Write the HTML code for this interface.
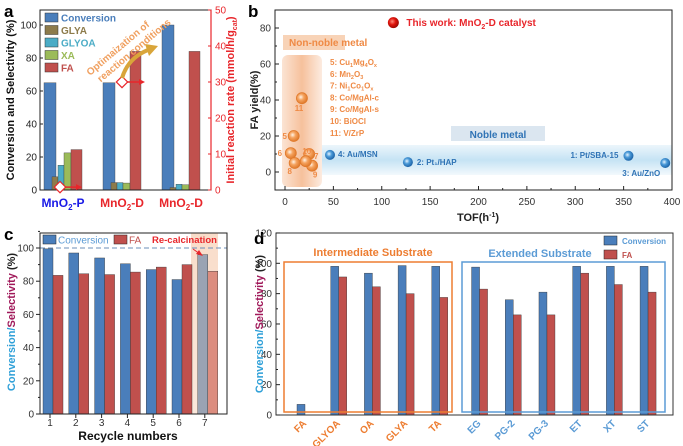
<!DOCTYPE html>
<html><head><meta charset="utf-8">
<style>
html,body{margin:0;padding:0;background:#fff;}
svg{display:block;font-family:"Liberation Sans",Arial,sans-serif;}
</style></head>
<body>
<svg id="fig" width="683" height="446" viewBox="0 0 683 446" xmlns="http://www.w3.org/2000/svg">
<defs>
<linearGradient id="gOr" x1="0" y1="0" x2="1" y2="0"><stop offset="0" stop-color="#f4b183" stop-opacity="0.35"/><stop offset="0.5" stop-color="#f4b183" stop-opacity="0.8"/><stop offset="1" stop-color="#f4b183" stop-opacity="0.25"/></linearGradient>
<linearGradient id="gBl" x1="0" y1="0" x2="0" y2="1"><stop offset="0" stop-color="#bfe0f3" stop-opacity="0.3"/><stop offset="0.5" stop-color="#bfe0f3" stop-opacity="0.9"/><stop offset="1" stop-color="#bfe0f3" stop-opacity="0.2"/></linearGradient>
<linearGradient id="gRe" x1="0" y1="0" x2="0" y2="1"><stop offset="0" stop-color="#f8d9c4" stop-opacity="0.9"/><stop offset="1" stop-color="#f8d9c4" stop-opacity="0.6"/></linearGradient>
<radialGradient id="ballO" cx="0.4" cy="0.4" r="0.6"><stop offset="0" stop-color="#fff3e6"/><stop offset="0.45" stop-color="#f5a35f"/><stop offset="1" stop-color="#e07a2c"/></radialGradient>
<radialGradient id="ballB" cx="0.4" cy="0.4" r="0.6"><stop offset="0" stop-color="#e6f4ff"/><stop offset="0.45" stop-color="#4a9ad8"/><stop offset="1" stop-color="#1d64a8"/></radialGradient>
<radialGradient id="ballR" cx="0.4" cy="0.4" r="0.6"><stop offset="0" stop-color="#ff8a7a"/><stop offset="0.5" stop-color="#e0140c"/><stop offset="1" stop-color="#9c0a04"/></radialGradient>
</defs>
<g id="pa"></g>
<g id="pb"></g>
<g id="pc"></g>
<g id="pd"></g>
</svg>
<script>
// ---------- Panel a data ----------
const aCats = ["MnO2-P","MnO2-D","MnO2-D"];
const aConversion = [65, 65, 100];
const aGLYA = [8, 4.5, 1.5];
const aGLYOA = [15, 4.5, 3.5];
const aXA = [22.5, 4.2, 3.2];
const aFA = [24.5, 84, 84];
const aRate = [0.8, 30];
const aLeftTicks = [0,20,40,60,80,100];
const aRightTicks = [0,10,20,30,40,50];
// ---------- Panel b data ----------
const bNonNobleLabels = ["5","6","7","8","9","10","11"];
const bNonNobleTOF = [9, 6, 25, 10, 28, 21.5, 17.5];
const bNonNobleYield = [20, 10.5, 10, 5, 3.5, 6, 41];
const bNobleLabels = ["1: Pt/SBA-15","2: Pt\u2081/HAP","3: Au/ZnO","4: Au/MSN"];
const bNobleTOF = [355, 127, 393, 46.5];
const bNobleYield = [9, 5.5, 5, 9.5];
const bThisTOF = [112];
const bThisYield = [83];
const bXTicks = [0,50,100,150,200,250,300,350,400];
const bYTicks = [0,20,40,60,80];
// ---------- Panel c data ----------
const cCycles = [1,2,3,4,5,6,7];
const cConversion = [99.5, 97, 94, 90.5, 87, 81, 96];
const cFA = [83.5, 84.5, 84, 85.5, 88.5, 90, 86];
const cYTicks = [0,20,40,60,80,100];
// ---------- Panel d data ----------
const dCats = ["FA","GLYOA","OA","GLYA","TA","EG","PG-2","PG-3","ET","XT","ST"];
const dConversion = [7, 98, 93.5, 98.5, 98, 97.5, 76, 81, 98, 98, 98];
const dFA = [0, 91, 84.5, 80, 77.5, 83, 66, 66, 93.5, 86, 81];
const dYTicks = [0,20,40,60,80,100,120];

const NS="http://www.w3.org/2000/svg";
function mk(parent, tag, attrs, text){
  const e=document.createElementNS(NS,tag);
  for(const k in attrs) e.setAttribute(k, attrs[k]);
  if(text!==undefined) e.textContent=text;
  parent.appendChild(e);
  return e;
}
const BLUE="#4a7ebb", RED="#c0504d", ORG="#ed7d31", LBLUE="#5b9bd5";

// ================= PANEL A =================
(function(){
  const g=document.getElementById('pa');
  const ya=v=>190-v*1.65, yr=v=>190-v*3.6;
  const cx=[63,122,181];
  let t=mk(g,'text',{x:4,y:17,'font-size':17,'font-weight':'bold'},'a');
  
  
  // bars
  for(let i=0;i<3;i++){
    const c=cx[i];
    const specs=[[aConversion[i],-19,12,BLUE,'bar-conversion'],[aGLYA[i],-11,6,'#8d7b4b','bar-glya'],[aGLYOA[i],-5,6,'#4bacc6','bar-glyoa'],[aXA[i],1,7,'#9bbb59','bar-xa'],[aFA[i],8,11,RED,'bar-fa']];
    for(const s of specs){
      const r=mk(g,'rect',{x:c+s[1],y:ya(s[0]),width:s[2],height:190-ya(s[0]),fill:s[3],stroke:'#444','stroke-width':0.4});
      
      
    }
  }
  // frame
  let f=mk(g,'rect',{x:40,y:10,width:171,height:180,fill:'none',stroke:'#222','stroke-width':1});
  
  
  mk(g,'line',{x1:211,y1:10,x2:211,y2:190,stroke:'#e8262b','stroke-width':1.2});
  for(const v of aLeftTicks){
    mk(g,'line',{x1:40,y1:ya(v),x2:43,y2:ya(v),stroke:'#222'});
    const l=mk(g,'text',{x:37,y:ya(v)+3.5,'font-size':10,'text-anchor':'end',fill:'#222'},v);
    
    
  }
  for(const v of aRightTicks){
    mk(g,'line',{x1:211,y1:yr(v),x2:208,y2:yr(v),stroke:'#e8262b'});
    const l=mk(g,'text',{x:215,y:yr(v)+3.5,'font-size':10,fill:'#e8262b'},v);
    
    
  }
  // rate markers
  const rx=[60,122], re=[82,145];
  for(let i=0;i<aRate.length;i++){
    const y=yr(aRate[i]);
    mk(g,'line',{x1:rx[i],y1:y,x2:re[i]-4,y2:y,stroke:'#e8262b','stroke-width':1.6});
    mk(g,'polygon',{points:`${re[i]},${y} ${re[i]-6},${y-3} ${re[i]-6},${y+3}`,fill:'#e8262b'});
    const d=mk(g,'rect',{x:rx[i]-4,y:y-4,width:8,height:8,fill:'#fff',stroke:'#e8262b','stroke-width':1.2,transform:`rotate(45 ${rx[i]} ${y})`});
    
    
  }
  // orange arrow
  mk(g,'path',{d:'M122,78 Q128,58 148,50',fill:'none',stroke:'#d9a53a','stroke-width':4});
  mk(g,'polygon',{points:'158,46 145,44 149,56',fill:'#d9a53a'});
  const ot=mk(g,'text',{transform:'translate(90,76) rotate(-40)','font-size':10,'font-weight':'bold',fill:'#f0a060'});
  
  
  mk(ot,'tspan',{x:0,y:0},'Optimaization of');
  mk(ot,'tspan',{x:4,y:12},'reaction conditions');
  // legend
  const leg=[['Conversion',BLUE],['GLYA','#8d7b4b'],['GLYOA','#4bacc6'],['XA','#9bbb59'],['FA',RED]];
  leg.forEach((e,i)=>{
    const y=13+i*12.5;
    const s=mk(g,'rect',{x:45,y:y,width:13,height:9,fill:e[1],stroke:'#333','stroke-width':0.5});
    
    
    const l=mk(g,'text',{x:61,y:y+8.5,'font-size':10,'font-weight':'bold',fill:e[1]},e[0]);
    
    
  });
  // x labels
  const cols=['#1a1ae6','#e8262b','#e8262b'];
  aCats.forEach((c,i)=>{
    const l=mk(g,'text',{x:cx[i],y:207,'font-size':12,'font-weight':'bold','text-anchor':'middle',fill:cols[i]});
    
    
    mk(l,'tspan',{},'MnO');
    mk(l,'tspan',{'font-size':8,dy:3},'2');
    mk(l,'tspan',{dy:-3},c.slice(4));
  });
  let yt=mk(g,'text',{transform:'translate(14,100) rotate(-90)','font-size':11,'font-weight':'bold','text-anchor':'middle',fill:'#111'},'Conversion and Selectivity (%)');
  
  
  let yt2=mk(g,'text',{transform:'translate(234,100) rotate(-90)','font-size':11,'font-weight':'bold','text-anchor':'middle',fill:'#e8262b'});
  
  
  mk(yt2,'tspan',{},'Initial reaction rate (mmol/h/g');
  mk(yt2,'tspan',{'font-size':7,dy:3},'cat');
  mk(yt2,'tspan',{dy:-3},')');
})();

// ================= PANEL B =================
(function(){
  const g=document.getElementById('pb');
  const xb=v=>285+v*0.9675, yb=v=>172-v*1.8;
  let t=mk(g,'text',{x:248,y:17,'font-size':17,'font-weight':'bold'},'b');
  
  
  // shaded regions
  let s1=mk(g,'rect',{x:282,y:55,width:40,height:132,rx:6,fill:'url(#gOr)'});
  
  
  let s2=mk(g,'rect',{x:322,y:145,width:350,height:30,fill:'url(#gBl)'});
  
  
  mk(g,'rect',{x:283,y:35,width:62,height:15,fill:'#f8d3b7'});
  let nl=mk(g,'text',{x:289,y:46,'font-size':10,'font-weight':'bold',fill:'#ef8a45'},'Non-noble metal');
  
  
  mk(g,'rect',{x:451,y:126,width:94,height:15,fill:'#dbe6f0'});
  let bl=mk(g,'text',{x:498,y:138,'font-size':10,'font-weight':'bold','text-anchor':'middle',fill:'#2f73b5'},'Noble metal');
  
  
  // catalyst list
  const list=[['5: Cu','1','Mg','4','O','x'],['6: Mn','2','O','3'],['7: Ni','1','Co','1','O','x'],['8: Co/MgAl-c'],['9: Co/MgAl-s'],['10: BiOCl'],['11: V/ZrP']];
  list.forEach((L,i)=>{
    const tx=mk(g,'text',{x:330,y:65+i*11.8,'font-size':8,'font-weight':'bold',fill:'#ef8a45'});
    
    
    L.forEach((p,j)=>{ if(j%2===1) mk(tx,'tspan',{'font-size':5.5,dy:2},p); else mk(tx,'tspan',{dy:j?-2:0},p); });
  });
  // frame
  let f=mk(g,'rect',{x:275,y:10,width:397,height:180,fill:'none',stroke:'#222'});
  
  
  bXTicks.forEach(v=>{
    mk(g,'line',{x1:xb(v),y1:190,x2:xb(v),y2:186,stroke:'#222'});
    mk(g,'line',{x1:xb(v+25),y1:190,x2:xb(v+25),y2:188,stroke:'#222'});
    const l=mk(g,'text',{x:xb(v),y:205,'font-size':10,'text-anchor':'middle',fill:'#333'},v);
    
    
  });
  bYTicks.forEach(v=>{
    mk(g,'line',{x1:275,y1:yb(v),x2:279,y2:yb(v),stroke:'#222'});
    mk(g,'line',{x1:275,y1:yb(v+10),x2:277,y2:yb(v+10),stroke:'#222'});
    const l=mk(g,'text',{x:271,y:yb(v)+3.5,'font-size':10,'text-anchor':'end',fill:'#333'},v);
    
    
  });
  // non-noble points
  const lblOff={'5':[-9,3],'6':[-11,3],'7':[7,5],'8':[-5,11],'9':[3,12],'10':[1,-7],'11':[-3,13]};
  bNonNobleTOF.forEach((v,i)=>{
    const x=xb(v), y=yb(bNonNobleYield[i]);
    const c=mk(g,'circle',{cx:x,cy:y,r:5.5,fill:'url(#ballO)',stroke:'#e07a2c','stroke-width':0.8});
    
    
    const o=lblOff[bNonNobleLabels[i]]||[6,0];
    const l=mk(g,'text',{x:x+o[0],y:y+o[1],'font-size':8,'font-weight':'bold','text-anchor':'middle',fill:'#ef8a45'},bNonNobleLabels[i]);
    
    
  });
  // noble
  const nOff=[[-10,2,'end'],[9,3,'start'],[-5,13,'end'],[8,2,'start']];
  bNobleTOF.forEach((v,i)=>{
    const x=xb(v), y=yb(bNobleYield[i]);
    const c=mk(g,'circle',{cx:x,cy:y,r:5,fill:'url(#ballB)'});
    
    
    const l=mk(g,'text',{x:x+nOff[i][0],y:y+nOff[i][1],'font-size':8,'font-weight':'bold','text-anchor':nOff[i][2],fill:'#2f73b5'},bNobleLabels[i]);
    
    
  });
  bThisTOF.forEach((v,i)=>{
    const c=mk(g,'circle',{cx:xb(v),cy:yb(bThisYield[i]),r:5.5,fill:'url(#ballR)'});
    
    
    const l=mk(g,'text',{x:xb(v)+13,y:yb(bThisYield[i])+3.5,'font-size':10,'font-weight':'bold',fill:'#e8262b'});
    
    
    mk(l,'tspan',{},'This work: MnO');
    mk(l,'tspan',{'font-size':7,dy:3},'2');
    mk(l,'tspan',{dy:-3},'-D catalyst');
  });
  let xt=mk(g,'text',{x:478,y:221,'font-size':11,'font-weight':'bold','text-anchor':'middle',fill:'#222'});
  
  
  mk(xt,'tspan',{},'TOF(h');
  mk(xt,'tspan',{'font-size':7,dy:-4},'-1');
  mk(xt,'tspan',{dy:4},')');
  let yt=mk(g,'text',{transform:'translate(258,100) rotate(-90)','font-size':11,'font-weight':'bold','text-anchor':'middle',fill:'#222'},'FA yield(%)');
  
  
})();

// ================= PANEL C =================
(function(){
  const g=document.getElementById('pc');
  const xc=i=>50+(i-1)*25.8, yc=v=>414-v*1.66;
  let t=mk(g,'text',{x:4,y:240,'font-size':17,'font-weight':'bold'},'c');
  
  
  let sh=mk(g,'rect',{x:191,y:233,width:27,height:181,fill:'url(#gRe)'});
  
  
  cCycles.forEach((c,i)=>{
    const last=(i===cCycles.length-1);
    const b=mk(g,'rect',{x:xc(c)-7,y:yc(cConversion[i]),width:10,height:414-yc(cConversion[i]),fill:last?'#9aa3b3':BLUE,stroke:'#333','stroke-width':0.4});
    
    
    const r=mk(g,'rect',{x:xc(c)+3,y:yc(cFA[i]),width:10,height:414-yc(cFA[i]),fill:last?'#dc8d7f':RED,stroke:'#333','stroke-width':0.4});
    
    
    mk(g,'line',{x1:xc(c),y1:414,x2:xc(c),y2:418,stroke:'#222'});
    const l=mk(g,'text',{x:xc(c),y:426,'font-size':10,'text-anchor':'middle',fill:'#333'},c);
    
    
  });
  let dl=mk(g,'line',{x1:40,y1:yc(100),x2:227,y2:yc(100),stroke:'#6b8fb8','stroke-dasharray':'5,3'});
  
  
  let f=mk(g,'rect',{x:40,y:233,width:187,height:181,fill:'none',stroke:'#222'});
  
  
  cYTicks.forEach(v=>{
    mk(g,'line',{x1:36,y1:yc(v),x2:40,y2:yc(v),stroke:'#222'});
    mk(g,'line',{x1:38,y1:yc(v+10),x2:40,y2:yc(v+10),stroke:'#222'});
    const l=mk(g,'text',{x:34,y:yc(v)+3.5,'font-size':10,'text-anchor':'end',fill:'#333'},v);
    
    
  });
  // legend
  mk(g,'rect',{x:43,y:235,width:13,height:9,fill:BLUE,stroke:'#222','stroke-width':0.5});
  let l1=mk(g,'text',{x:58,y:243.5,'font-size':10,fill:LBLUE},'Conversion');
  
  
  mk(g,'rect',{x:114,y:235,width:13,height:9,fill:RED,stroke:'#222','stroke-width':0.5});
  let l2=mk(g,'text',{x:129,y:243.5,'font-size':10,fill:RED},'FA');
  
  
  let rc=mk(g,'text',{x:152,y:243,'font-size':9.5,'font-weight':'bold',fill:'#e8262b'},'Re-calcination');
  
  
  mk(g,'line',{x1:193,y1:249,x2:200,y2:254,stroke:'#e8262b','stroke-width':1});
  mk(g,'polygon',{points:'203,256 196,254 199,250',fill:'#e8262b'});
  let xt=mk(g,'text',{x:128,y:440,'font-size':12,'font-weight':'bold','text-anchor':'middle',fill:'#111'},'Recycle numbers');
  
  
  let yt=mk(g,'text',{transform:'translate(15,322) rotate(-90)','font-size':11,'font-weight':'bold','text-anchor':'middle'});
  
  
  mk(yt,'tspan',{fill:'#2fa0d8'},'Conversion/');
  mk(yt,'tspan',{fill:'#a0195a'},'Selectivity');
  mk(yt,'tspan',{fill:'#222'},' (%)');
})();

// ================= PANEL D =================
(function(){
  const g=document.getElementById('pd');
  const xd=i=>301+(i+(i>=5?0.18:0))*33.7, yd=v=>415-v*1.517;
  let t=mk(g,'text',{x:254,y:244,'font-size':17,'font-weight':'bold'},'d');
  
  
  dCats.forEach((c,i)=>{
    if(dConversion[i]>0){
      const b=mk(g,'rect',{x:xd(i)-4,y:yd(dConversion[i]),width:8,height:415-yd(dConversion[i]),fill:BLUE,stroke:'#333','stroke-width':0.4});
      
      
    }
    if(dFA[i]>0){
      const r=mk(g,'rect',{x:xd(i)+4,y:yd(dFA[i]),width:8,height:415-yd(dFA[i]),fill:RED,stroke:'#333','stroke-width':0.4});
      
      
    }
    const col=i<5?ORG:LBLUE;
    const l=mk(g,'text',{transform:`translate(${xd(i)+6},${424}) rotate(-45)`,'font-size':10,'font-weight':'bold','text-anchor':'end',fill:col},c);
    
    
  });
  let b1=mk(g,'rect',{x:284,y:262,width:168,height:150,fill:'none',stroke:ORG,'stroke-width':1.5});
  
  
  let b2=mk(g,'rect',{x:462,y:262,width:203,height:150,fill:'none',stroke:LBLUE,'stroke-width':1.5});
  
  
  let t1=mk(g,'text',{x:373,y:256,'font-size':11,'font-weight':'bold','text-anchor':'middle',fill:ORG},'Intermediate Substrate');
  
  
  let t2=mk(g,'text',{x:540,y:257,'font-size':11,'font-weight':'bold','text-anchor':'middle',fill:LBLUE},'Extended Substrate');
  
  
  let f=mk(g,'rect',{x:276,y:233,width:397,height:182,fill:'none',stroke:'#333'});
  
  
  dYTicks.forEach(v=>{
    mk(g,'line',{x1:276,y1:yd(v),x2:280,y2:yd(v),stroke:'#222'});
    if(v<120) mk(g,'line',{x1:276,y1:yd(v+10),x2:278,y2:yd(v+10),stroke:'#222'});
    const l=mk(g,'text',{x:272,y:yd(v)+3.5,'font-size':10,'text-anchor':'end',fill:'#333'},v);
    
    
  });
  mk(g,'rect',{x:604,y:236,width:13,height:9,fill:BLUE,stroke:'#222','stroke-width':0.5});
  let l1=mk(g,'text',{x:622,y:244,'font-size':8,'font-weight':'bold',fill:LBLUE},'Conversion');
  
  
  mk(g,'rect',{x:604,y:250,width:13,height:9,fill:RED,stroke:'#222','stroke-width':0.5});
  let l2=mk(g,'text',{x:622,y:258,'font-size':8,'font-weight':'bold',fill:RED},'FA');
  
  
  let yt=mk(g,'text',{transform:'translate(263,324) rotate(-90)','font-size':11,'font-weight':'bold','text-anchor':'middle'});
  
  
  mk(yt,'tspan',{fill:'#2fa0d8'},'Conversion/');
  mk(yt,'tspan',{fill:'#a0195a'},'Selectivity');
  mk(yt,'tspan',{fill:'#222'},' (%)');
})();
</script>
</body></html>
